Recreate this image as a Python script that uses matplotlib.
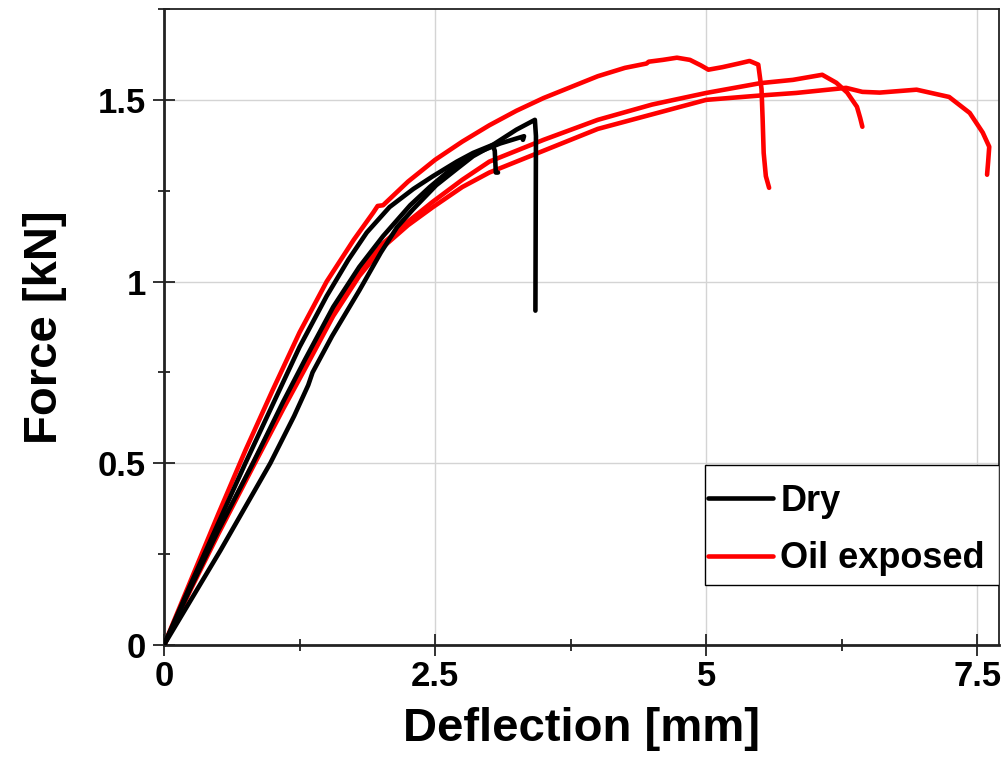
import matplotlib
matplotlib.use("Agg")
import matplotlib.pyplot as plt
from matplotlib.ticker import MultipleLocator
from matplotlib.patches import Rectangle

# ---- Data ----
# Dry specimens
dry1_x = [0, 0.25, 0.45, 0.52, 0.75, 0.98, 1.2, 1.33, 1.37, 1.55, 1.8, 2.0, 2.15, 2.3, 2.51, 2.7, 2.85, 3.0,
          3.25, 3.42, 3.43, 3.425]
dry1_y = [0, 0.125, 0.225, 0.26, 0.38, 0.5, 0.63, 0.715, 0.75, 0.85, 0.975, 1.08, 1.15, 1.2, 1.265, 1.31, 1.345,
          1.37, 1.418, 1.445, 1.40, 0.92]

dry2_x = [0, 0.25, 0.5, 0.75, 1.0, 1.25, 1.5, 1.7, 1.87, 2.08, 2.3, 2.48, 2.7, 2.85, 3.03, 3.05, 3.06, 3.08]
dry2_y = [0, 0.17, 0.335, 0.5, 0.66, 0.82, 0.96, 1.06, 1.135, 1.205, 1.255, 1.29, 1.33, 1.354, 1.376, 1.36,
          1.30, 1.30]

dry3_x = [0, 0.25, 0.5, 0.82, 1.1, 1.3, 1.56, 1.8, 2.02, 2.27, 2.45, 2.65, 2.85, 3.1, 3.32, 3.31]
dry3_y = [0, 0.16, 0.315, 0.5, 0.67, 0.785, 0.93, 1.04, 1.125, 1.21, 1.26, 1.31, 1.35, 1.38, 1.40, 1.39]

# Oil exposed specimens
oil1_x = [0, 0.25, 0.5, 0.75, 1.0, 1.25, 1.5, 1.75, 1.93, 1.97, 2.02, 2.25, 2.5, 2.75, 3.0, 3.25,
          3.5, 3.75, 4.0, 4.25, 4.45, 4.47, 4.6, 4.73, 4.85, 4.95, 5.02, 5.15, 5.3, 5.4, 5.48,
          5.51, 5.52, 5.53, 5.55, 5.58]
oil1_y = [0, 0.18, 0.36, 0.535, 0.70, 0.86, 1.0, 1.115, 1.19, 1.208, 1.21, 1.275, 1.335, 1.385, 1.43, 1.47,
          1.505, 1.535, 1.565, 1.588, 1.600, 1.605, 1.61, 1.616, 1.61, 1.595, 1.583, 1.59, 1.60, 1.607, 1.597,
          1.53, 1.45, 1.354, 1.29, 1.258]

oil2_x = [0, 0.25, 0.5, 0.82, 1.1, 1.3, 1.56, 1.8, 2.02, 2.25, 2.48, 2.75, 3.0, 3.5, 4.0, 4.5,
          5.0, 5.5, 5.8, 6.07, 6.2, 6.3, 6.39, 6.42, 6.44]
oil2_y = [0, 0.16, 0.31, 0.5, 0.66, 0.77, 0.915, 1.025, 1.105, 1.165, 1.22, 1.28, 1.33, 1.39, 1.445, 1.487,
          1.519, 1.546, 1.555, 1.569, 1.547, 1.52, 1.481, 1.45, 1.426]

oil3_x = [0, 0.25, 0.5, 0.82, 1.1, 1.3, 1.56, 1.8, 2.02, 2.25, 2.48, 2.75, 3.0, 3.5, 4.0, 4.5,
          5.0, 5.5, 5.83, 6.29, 6.44, 6.6, 6.94, 7.24, 7.43, 7.55, 7.61, 7.60, 7.59]
oil3_y = [0, 0.155, 0.305, 0.49, 0.65, 0.76, 0.905, 1.015, 1.095, 1.155, 1.205, 1.26, 1.30, 1.36, 1.42, 1.46,
          1.50, 1.512, 1.519, 1.533, 1.522, 1.52, 1.528, 1.508, 1.464, 1.41, 1.371, 1.33, 1.294]

x_ticks = [0, 2.5, 5, 7.5]
x_tick_labels = ["0", "2.5", "5", "7.5"]
y_ticks = [0, 0.5, 1, 1.5]
y_tick_labels = ["0", "0.5", "1", "1.5"]

plt.rcParams['font.family'] = ['Liberation Sans', 'DejaVu Sans']
plt.rcParams['font.weight'] = 'bold'

fig = plt.figure(figsize=(10.07, 7.57), dpi=100)
ax = fig.add_axes([164/1007, 112/757, 835/1007, 636/757])

lw = 3.3
black = '#000000'
red = '#ff0000'
kw = dict(lw=lw, solid_capstyle='round', solid_joinstyle='round')
h_dry, = ax.plot(dry1_x, dry1_y, color=black, label='Dry', zorder=3, **kw)
ax.plot(dry2_x, dry2_y, color=black, zorder=3, **kw)
ax.plot(dry3_x, dry3_y, color=black, zorder=3, **kw)
h_oil, = ax.plot(oil1_x, oil1_y, color=red, label='Oil exposed', zorder=2, **kw)
ax.plot(oil2_x, oil2_y, color=red, zorder=2, **kw)
ax.plot(oil3_x, oil3_y, color=red, zorder=2, **kw)

ax.set_xlim(0, 7.7)
ax.set_ylim(0, 1.75)
ax.set_xticks(x_ticks)
ax.set_xticklabels(x_tick_labels)
ax.set_yticks(y_ticks)
ax.set_yticklabels(y_tick_labels)
ax.xaxis.set_minor_locator(MultipleLocator(1.25))
ax.yaxis.set_minor_locator(MultipleLocator(0.25))

ax.grid(True, which='major', color='#d4d4d4', lw=1.0, zorder=0)
ax.set_axisbelow(True)

for s in ax.spines.values():
    s.set_linewidth(1.3)
    s.set_color('#222222')
ax.spines['left'].set_linewidth(2.0)
ax.spines['bottom'].set_linewidth(2.0)

ax.tick_params(which='major', direction='inout', length=16, width=1.3, color='#222222',
               labelsize=25, pad=5)
ax.tick_params(which='minor', direction='inout', length=9, width=1.3, color='#222222')
ax.tick_params(axis='x', which='major', pad=3)

ax.set_xlabel('Deflection [mm]', fontsize=34, fontweight='bold', labelpad=10)
ax.set_ylabel('Force [kN]', fontsize=34, fontweight='bold', labelpad=22)

# legend box (drawn as a frame) + frameless legend entries
box = Rectangle((541/835, 60/636), 294/835, 120/636, transform=ax.transAxes,
                facecolor='white', edgecolor='#000000', lw=1.0, zorder=5)
ax.add_patch(box)
leg = ax.legend(handles=[h_dry, h_oil], loc='upper left',
                bbox_to_anchor=(544/835, 161/636),
                fontsize=26, frameon=False, handlelength=1.8, handletextpad=0.2,
                borderpad=0, labelspacing=0.62, borderaxespad=0)
leg.set_zorder(6)

fig.savefig('out.png', dpi=100)
